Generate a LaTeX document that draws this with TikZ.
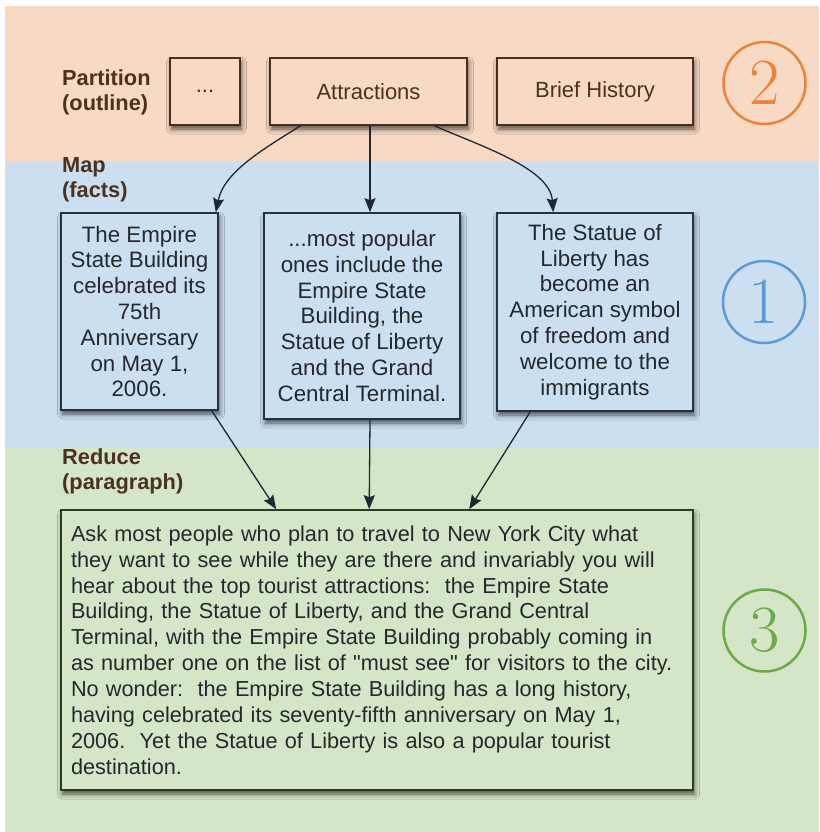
\documentclass[tikz,border=0pt]{standalone}
\usepackage{fontspec}
\setmainfont{Liberation Sans}
% a second instance without TeX ligatures keeps straight double quotes
\newfontfamily\plainsans{Liberation Sans}
\newfontfamily\digitfont{Latin Modern Roman}
\usetikzlibrary{arrows.meta,shadows.blur}

\definecolor{bandorange}{RGB}{247,217,196}
\definecolor{bandblue}{RGB}{204,223,240}
\definecolor{bandgreen}{RGB}{213,230,200}
\definecolor{edgebrown}{RGB}{72,46,28}
\definecolor{edgenavy}{RGB}{38,50,66}
\definecolor{edgegreen}{RGB}{44,60,32}
\definecolor{labelbrown}{RGB}{74,50,32}
\definecolor{textdark}{RGB}{36,40,46}
\definecolor{arrowdark}{RGB}{30,40,52}
\definecolor{numorange}{RGB}{234,132,56}
\definecolor{numblue}{RGB}{92,154,212}
\definecolor{numgreen}{RGB}{106,170,72}

\tikzset{
  shadowed/.style={blur shadow={shadow xshift=1.5pt, shadow yshift=-4pt,
      shadow blur radius=5pt, shadow opacity=65}},
  outlinebox/.style={draw=edgebrown, line width=1.6pt, fill=bandorange,
      shadowed, inner sep=0pt, minimum height=67pt, text=labelbrown,
      font=\fontsize{22}{26}\selectfont},
  factbox/.style={draw=edgenavy, line width=1.6pt, fill=bandblue,
      shadowed, inner sep=0pt, align=center, text=textdark,
      font=\fontsize{22.3}{25.8}\selectfont},
  parabox/.style={draw=edgegreen, line width=1.6pt, fill=bandgreen,
      shadowed, inner xsep=10pt, inner ysep=0pt, text width=612pt, align=left,
      text=textdark, font=\plainsans\frenchspacing\fontsize{21.7}{25.9}\selectfont},
  stagelabel/.style={anchor=north west, inner sep=0pt, align=left,
      text=labelbrown, font=\bfseries\fontsize{21.8}{25}\selectfont},
  stagenum/.style={circle, draw=#1, text=#1, line width=2.5pt,
      minimum size=82pt, inner sep=0pt,
      font=\digitfont\fontsize{66}{66}\selectfont},
  flow/.style={draw=arrowdark, line width=1.3pt,
      -{Stealth[length=14pt, width=11pt, inset=2pt]}},
}

\begin{document}
\begin{tikzpicture}[x=1pt, y=-1pt]
  \useasboundingbox (0,0) rectangle (819,832);
  \fill[white] (0,0) rectangle (819,832);

  % background bands
  \fill[bandorange] (5,6) rectangle (819,161);
  \fill[bandblue]   (5,161) rectangle (819,448);
  \fill[bandgreen]  (5,448) rectangle (819,832);

  % stage labels
  \node[stagelabel] (lpart) at (62,70)  {Partition\\(outline)};
  \node[stagelabel] (lmap)  at (62,157) {Map\\(facts)};
  \node[stagelabel] (lred)  at (62,448) {Reduce\\(paragraph)};

  % outline boxes
  \node[outlinebox, minimum width=70pt]  (dots) at (205,91.5)   {...};
  \node[outlinebox, minimum width=197pt] (attr) at (368.5,91.5) {Attractions};
  \node[outlinebox, minimum width=196pt] (hist) at (595,91.5)   {Brief History};

  % fact boxes
  \node[factbox, minimum width=157pt, minimum height=197pt] (f1) at (139.5,311.5)
    {The Empire\\State Building\\celebrated its\\75th\\Anniversary\\on May 1,\\2006.};
  \node[factbox, minimum width=196pt, minimum height=206pt] (f2) at (362,316)
    {...most popular\\ones include the\\Empire State\\Building, the\\Statue of Liberty\\and the Grand\\Central Terminal.};
  \node[factbox, minimum width=196pt, minimum height=198pt] (f3) at (595,312)
    {The Statue of\\Liberty has\\become an\\American symbol\\of freedom and\\welcome to the\\immigrants};

  % reduced paragraph
  \node[parabox, minimum height=280pt] (para) at (377,650)
    {Ask most people who plan to travel to New York City what\\
     they want to see while they are there and invariably you will\\
     hear about the top tourist attractions:~ the Empire State\\
     Building, the Statue of Liberty, and the Grand Central\\
     Terminal, with the Empire State Building probably coming in\\
     as number one on the list of "must see" for visitors to the city.\\
     No wonder:~ the Empire State Building has a long history,\\
     having celebrated its seventy-fifth anniversary on May 1,\\
     2006.~ Yet the Statue of Liberty is also a popular tourist\\
     destination.};

  % stage numbers
  \node[stagenum=numorange] (n2) at (764.5,83)    {2};
  \node[stagenum=numblue]   (n1) at (764,302)     {1};
  \node[stagenum=numgreen]  (n3) at (764.5,630.5) {3};

  % map connectors
  \draw[flow] ([xshift=-68pt]attr.south) .. controls (262,150) and (224,172) .. ([xshift=-3pt]f1.north east);
  \draw[flow] ([xshift=1.5pt]attr.south) -- ([xshift=8pt]f2.north);
  \draw[flow] ([xshift=66pt]attr.south) .. controls (480,146) and (550,168) .. ([xshift=57pt]f3.north west);

  % reduce connectors
  \draw[flow] ([xshift=-7pt]f1.south east) -- ([xshift=216pt]para.north west);
  \draw[flow] ([xshift=8pt]f2.south) -- ([xshift=309pt]para.north west);
  \draw[flow] ([xshift=34pt]f3.south west) -- ([xshift=409pt]para.north west);
\end{tikzpicture}
\end{document}
